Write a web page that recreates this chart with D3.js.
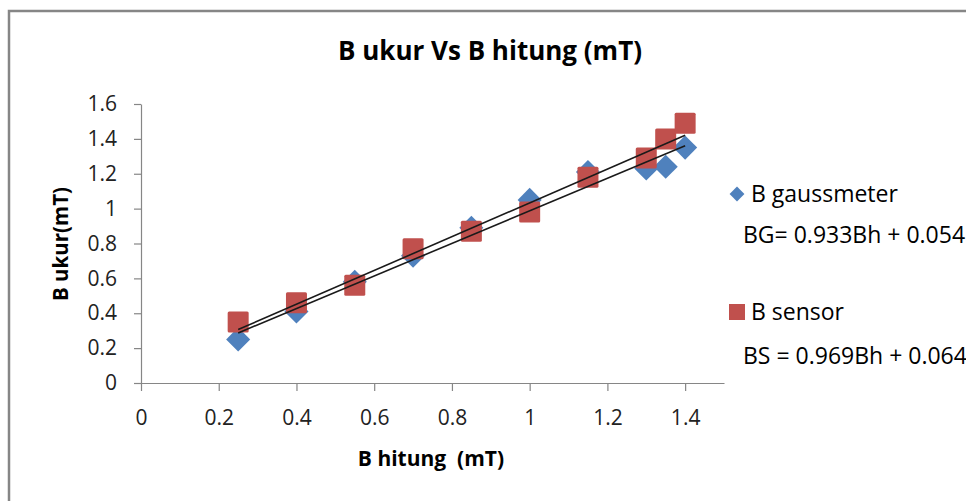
<!DOCTYPE html>
<html>
<head>
<meta charset="utf-8">
<script src="https://cdn.jsdelivr.net/npm/d3@7"></script>
<style>
  body { margin: 0; background: #fff; overflow: hidden; }
  svg text { font-family: "Open Sans", Lato, sans-serif; fill: #000; }
  .axis path, .axis line { stroke: #868686; stroke-width: 1.2; }
  .axis text { font-size: 21px; fill: #222; }
</style>
</head>
<body>
<svg id="chart"></svg>
<script>
// Values
const bHitung = [0.25, 0.4, 0.55, 0.7, 0.85, 1.0, 1.15, 1.3, 1.35, 1.4];
const bGaussmeter = [0.25, 0.41, 0.58, 0.73, 0.89, 1.05, 1.21, 1.23, 1.24, 1.35];
const bSensor = [0.35, 0.46, 0.56, 0.77, 0.87, 0.98, 1.18, 1.29, 1.40, 1.49];
const seriesNames = ["B gaussmeter", "B sensor"];
const equations = ["BG= 0.933Bh + 0.054", "BS = 0.969Bh + 0.064"];
const slopes = [0.933, 0.969];
const intercepts = [0.054, 0.064];
const xTicks = [0, 0.2, 0.4, 0.6, 0.8, 1, 1.2, 1.4];
const yTicks = [0, 0.2, 0.4, 0.6, 0.8, 1, 1.2, 1.4, 1.6];

const width = 966, height = 501;
const margin = {top: 104, right: 242, bottom: 118, left: 141};
const colors = ["#4F81BD", "#C0504D"];

const svg = d3.select("#chart")
  .attr("width", width)
  .attr("height", height);

// outer chart frame (runs off the right and bottom of the picture)
svg.append("rect")
  .attr("x", 9).attr("y", 11)
  .attr("width", 1100).attr("height", 600)
  .attr("fill", "none")
  .attr("stroke", "#868686")
  .attr("stroke-width", 2.5);

const innerW = width - margin.left - margin.right;
const innerH = height - margin.top - margin.bottom;

const x = d3.scaleLinear().domain([0, 1.5]).range([0, innerW]);
const y = d3.scaleLinear().domain([0, 1.6]).range([innerH, 0]);

const chart = svg.append("g")
  .attr("transform", `translate(${margin.left},${margin.top})`);

const fmt = d => d === 0 ? "0" : d === 1 ? "1" : d3.format(".1f")(d);

chart.append("g")
  .attr("class", "axis x-axis")
  .attr("transform", `translate(0,${innerH})`)
  .call(d3.axisBottom(x).tickValues(xTicks).tickFormat(fmt)
    .tickSizeInner(8).tickSizeOuter(0).tickPadding(19));

chart.append("g")
  .attr("class", "axis y-axis")
  .call(d3.axisLeft(y).tickValues(yTicks).tickFormat(fmt)
    .tickSizeInner(7).tickSizeOuter(0).tickPadding(17));

// series markers
const seriesData = [bGaussmeter, bSensor].map((vals, i) =>
  vals.map((v, j) => ({x: bHitung[j], y: v, s: i})));

chart.append("g").selectAll(".bg")
  .data(seriesData[0])
  .join("path")
  .attr("class", "bg")
  .attr("d", d3.symbol().type(d3.symbolSquare).size(290))
  .attr("transform", d => `translate(${x(d.x)},${y(d.y)}) rotate(45)`)
  .attr("fill", colors[0]);

chart.append("g").selectAll(".bs")
  .data(seriesData[1])
  .join("rect")
  .attr("class", "bs")
  .attr("x", d => x(d.x) - 10.5)
  .attr("y", d => y(d.y) - 10.5)
  .attr("width", 21)
  .attr("height", 21)
  .attr("rx", 1.5)
  .attr("fill", colors[1]);

// linear trendlines
const xMin = d3.min(bHitung), xMax = d3.max(bHitung);
slopes.forEach((m, i) => {
  const b = intercepts[i];
  chart.append("line")
    .attr("x1", x(xMin)).attr("y1", y(m * xMin + b))
    .attr("x2", x(xMax)).attr("y2", y(m * xMax + b))
    .attr("stroke", "#1a1a1a")
    .attr("stroke-width", 1.6);
});

// titles
svg.append("text")
  .attr("x", 490).attr("y", 60)
  .attr("text-anchor", "middle")
  .attr("font-weight", "bold")
  .attr("font-size", 26)
  .text("B ukur Vs B hitung (mT)");

svg.append("text")
  .attr("x", 431).attr("y", 466)
  .attr("text-anchor", "middle")
  .attr("font-weight", "bold")
  .attr("font-size", 21)
  .style("white-space", "pre")
  .text("B hitung  (mT)");

svg.append("text")
  .attr("transform", "translate(68,244) rotate(-90)")
  .attr("text-anchor", "middle")
  .attr("font-weight", "bold")
  .attr("font-size", 20.5)
  .text("B ukur(mT)");

// legend
const legend = svg.append("g");
legend.append("path")
  .attr("d", d3.symbol().type(d3.symbolSquare).size(110))
  .attr("transform", "translate(737,194) rotate(45)")
  .attr("fill", colors[0]);
legend.append("rect")
  .attr("x", 729).attr("y", 304)
  .attr("width", 16).attr("height", 16)
  .attr("fill", colors[1]);

[[751, 202], [751, 320]].forEach((p, i) => {
  legend.append("text")
    .attr("x", p[0]).attr("y", p[1])
    .attr("font-size", 23)
    .attr("fill", "#222")
    .text(seriesNames[i]);
});
[[743, 243], [743, 364]].forEach((p, i) => {
  legend.append("text")
    .attr("x", p[0]).attr("y", p[1])
    .attr("font-size", 23)
    .attr("fill", "#222")
    .text(equations[i]);
});
</script>
</body>
</html>
